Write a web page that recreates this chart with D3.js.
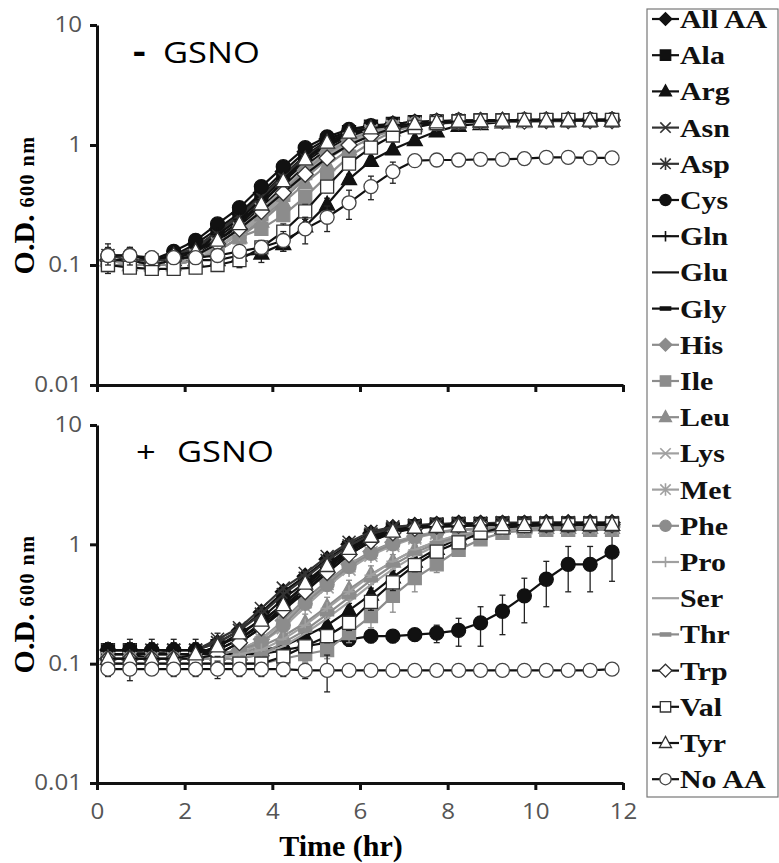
<!DOCTYPE html>
<html lang="en">
<head>
<meta charset="UTF-8">
<title>Growth curves with and without GSNO</title>
<script src="https://d3js.org/d3.v7.min.js"></script>
<style>
    body { margin: 0; background: #fff; }
    svg { display: block; }
    .tick text { font-family: "Open Sans", "Noto Sans", sans-serif; font-size: 21px; fill: #555; }
</style>
</head>
<body>
<svg id="chart" width="779" height="863"></svg>
<script>
// sampling times (hr)
const timeHr = [0.25,0.75,1.25,1.75,2.25,2.75,3.25,3.75,4.25,4.75,5.25,5.75,6.25,6.75,7.25,7.75,8.25,8.75,9.25,9.75,10.25,10.75,11.25,11.75];

const aminoAcids = ["All AA","Ala","Arg","Asn","Asp","Cys","Gln","Glu","Gly","His","Ile","Leu","Lys","Met","Phe","Pro","Ser","Thr","Trp","Val","Tyr","No AA"];

const yTicks = [0.01, 0.1, 1, 10];
const yTickLabels = ["0.01", "0.1", "1", "10"];
const xTicks = [0, 2, 4, 6, 8, 10, 12];

// - GSNO, O.D. 600 nm
const minusAllAA = [0.11,0.11,0.11,0.12,0.15,0.20,0.27,0.40,0.60,0.88,1.12,1.30,1.42,1.50,1.55,1.58,1.60,1.60,1.60,1.62,1.62,1.62,1.62,1.62];
const minusAla = [0.11,0.11,0.10,0.11,0.14,0.19,0.26,0.38,0.56,0.82,1.08,1.28,1.42,1.50,1.55,1.57,1.58,1.60,1.60,1.60,1.60,1.60,1.60,1.60];
const minusArg = [0.11,0.11,0.11,0.11,0.11,0.11,0.12,0.125,0.15,0.21,0.32,0.52,0.74,0.92,1.10,1.30,1.45,1.50,1.55,1.57,1.58,1.60,1.60,1.60];
const minusAsn = [0.12,0.11,0.11,0.12,0.14,0.19,0.26,0.37,0.55,0.80,1.05,1.27,1.40,1.48,1.54,1.57,1.60,1.60,1.60,1.60,1.62,1.60,1.60,1.62];
const minusAsp = [0.11,0.11,0.11,0.11,0.14,0.18,0.25,0.36,0.53,0.78,1.03,1.25,1.40,1.48,1.53,1.56,1.58,1.60,1.60,1.60,1.60,1.60,1.60,1.60];
const minusCys = [0.12,0.12,0.11,0.13,0.16,0.22,0.30,0.45,0.66,0.95,1.17,1.35,1.45,1.50,1.55,1.58,1.60,1.60,1.60,1.62,1.62,1.62,1.63,1.63];
const minusGln = [0.11,0.11,0.10,0.11,0.13,0.18,0.24,0.35,0.52,0.76,1.00,1.23,1.38,1.47,1.52,1.56,1.58,1.58,1.60,1.60,1.60,1.60,1.60,1.60];
const minusGlu = [0.11,0.11,0.10,0.11,0.13,0.17,0.23,0.33,0.49,0.72,0.97,1.20,1.36,1.46,1.52,1.55,1.57,1.58,1.58,1.60,1.60,1.60,1.60,1.60];
const minusGly = [0.10,0.10,0.10,0.10,0.12,0.16,0.21,0.30,0.45,0.67,0.92,1.16,1.34,1.45,1.51,1.55,1.57,1.58,1.58,1.60,1.60,1.60,1.60,1.60];
const minusHis = [0.11,0.11,0.10,0.11,0.12,0.15,0.20,0.28,0.42,0.62,0.86,1.10,1.30,1.43,1.50,1.54,1.57,1.58,1.58,1.60,1.60,1.60,1.60,1.60];
const minusIle = [0.10,0.10,0.10,0.10,0.11,0.13,0.17,0.20,0.26,0.37,0.55,0.80,1.05,1.30,1.45,1.52,1.55,1.57,1.58,1.58,1.60,1.60,1.60,1.60];
const minusLeu = [0.11,0.10,0.10,0.10,0.11,0.13,0.17,0.23,0.33,0.48,0.68,0.92,1.15,1.33,1.44,1.50,1.54,1.56,1.57,1.58,1.58,1.58,1.60,1.60];
const minusLys = [0.11,0.11,0.10,0.11,0.12,0.15,0.20,0.29,0.43,0.64,0.88,1.12,1.31,1.43,1.50,1.54,1.56,1.58,1.58,1.58,1.60,1.60,1.60,1.60];
const minusMet = [0.11,0.10,0.10,0.10,0.12,0.14,0.19,0.27,0.40,0.60,0.84,1.08,1.28,1.41,1.49,1.53,1.56,1.57,1.58,1.58,1.60,1.60,1.60,1.60];
const minusPhe = [0.11,0.11,0.10,0.11,0.12,0.15,0.20,0.28,0.41,0.61,0.85,1.09,1.29,1.42,1.50,1.54,1.56,1.58,1.58,1.60,1.60,1.60,1.60,1.60];
const minusPro = [0.10,0.10,0.10,0.10,0.11,0.14,0.18,0.26,0.38,0.57,0.81,1.05,1.26,1.40,1.48,1.53,1.56,1.57,1.58,1.58,1.60,1.60,1.60,1.60];
const minusSer = [0.10,0.10,0.10,0.10,0.11,0.14,0.18,0.25,0.37,0.55,0.78,1.03,1.24,1.39,1.47,1.52,1.55,1.57,1.58,1.58,1.58,1.60,1.60,1.60];
const minusThr = [0.10,0.10,0.10,0.10,0.11,0.13,0.17,0.24,0.35,0.53,0.76,1.00,1.22,1.38,1.46,1.52,1.55,1.56,1.57,1.58,1.58,1.58,1.60,1.60];
const minusTrp = [0.11,0.11,0.10,0.11,0.12,0.15,0.20,0.28,0.40,0.57,0.78,1.00,1.20,1.38,1.47,1.52,1.55,1.57,1.58,1.58,1.60,1.60,1.60,1.60];
const minusVal = [0.10,0.095,0.093,0.093,0.095,0.10,0.11,0.14,0.19,0.28,0.45,0.70,0.95,1.20,1.40,1.52,1.57,1.60,1.60,1.62,1.62,1.62,1.62,1.62];
const minusTyr = [0.12,0.12,0.11,0.12,0.13,0.16,0.22,0.32,0.50,0.76,1.05,1.27,1.38,1.45,1.50,1.55,1.57,1.58,1.60,1.60,1.60,1.60,1.60,1.60];
const minusNoAA = [0.12,0.12,0.115,0.115,0.115,0.12,0.13,0.14,0.16,0.20,0.25,0.33,0.45,0.60,0.74,0.75,0.75,0.76,0.76,0.77,0.79,0.79,0.78,0.78];

// - GSNO, error (s.d.)
const minusCysErr = [0.03,0.02,0.015,0.015,0.02,0.02,0.03,0.04,0.05,0.05,0.05,0.04,0.03,0.03,0.03,0.03,0.03,0.03,0.03,0.03,0.03,0.03,0.03,0.03];
const minusArgErr = [0.01,0.01,0.01,0.01,0.01,0.01,0.015,0.02,0.02,0.03,0.04,0.05,0.06,0.06,0.05,0.04,0.03,0.03,0.03,0.03,0.03,0.03,0.03,0.03];
const minusIleErr = [0.01,0.01,0.01,0.01,0.01,0.015,0.02,0.02,0.03,0.04,0.05,0.06,0.06,0.05,0.04,0.03,0.03,0.03,0.03,0.03,0.03,0.03,0.03,0.03];
const minusValErr = [0.015,0.01,0.01,0.01,0.01,0.01,0.015,0.02,0.03,0.04,0.05,0.06,0.06,0.05,0.04,0.03,0.03,0.03,0.03,0.03,0.03,0.03,0.03,0.03];
const minusNoAAErr = [0.02,0.02,0.015,0.01,0.01,0.01,0.015,0.02,0.03,0.05,0.06,0.09,0.10,0.12,0.03,0.02,0.02,0.02,0.02,0.02,0.02,0.02,0.02,0.02];

// + GSNO, O.D. 600 nm
const plusAllAA = [0.13,0.13,0.13,0.13,0.13,0.15,0.19,0.27,0.40,0.54,0.75,1.00,1.24,1.38,1.44,1.47,1.50,1.50,1.50,1.50,1.52,1.52,1.52,1.52];
const plusAla = [0.13,0.13,0.12,0.12,0.12,0.14,0.17,0.24,0.35,0.48,0.68,0.93,1.18,1.33,1.42,1.46,1.48,1.48,1.50,1.50,1.50,1.50,1.50,1.50];
const plusArg = [0.12,0.12,0.12,0.12,0.12,0.12,0.12,0.13,0.14,0.17,0.21,0.28,0.38,0.53,0.72,0.92,1.12,1.28,1.38,1.42,1.45,1.45,1.46,1.46];
const plusAsn = [0.13,0.13,0.13,0.13,0.13,0.16,0.20,0.29,0.43,0.57,0.79,1.04,1.28,1.40,1.45,1.48,1.50,1.50,1.52,1.52,1.52,1.52,1.52,1.52];
const plusAsp = [0.13,0.13,0.12,0.13,0.13,0.15,0.19,0.26,0.38,0.52,0.73,0.97,1.22,1.36,1.43,1.47,1.48,1.50,1.50,1.50,1.50,1.50,1.50,1.50];
const plusCys = [0.13,0.13,0.13,0.13,0.13,0.13,0.12,0.12,0.13,0.14,0.15,0.16,0.17,0.17,0.175,0.18,0.19,0.22,0.275,0.37,0.51,0.68,0.68,0.86];
const plusGln = [0.12,0.12,0.12,0.12,0.12,0.13,0.16,0.22,0.32,0.45,0.64,0.89,1.14,1.31,1.41,1.45,1.47,1.48,1.48,1.50,1.50,1.50,1.50,1.50];
const plusGlu = [0.12,0.12,0.12,0.12,0.12,0.13,0.16,0.21,0.30,0.43,0.61,0.86,1.10,1.29,1.40,1.44,1.46,1.48,1.48,1.48,1.48,1.50,1.50,1.50];
const plusGly = [0.12,0.12,0.11,0.11,0.11,0.12,0.15,0.20,0.29,0.41,0.58,0.82,1.06,1.26,1.38,1.43,1.46,1.47,1.48,1.48,1.48,1.48,1.48,1.48];
const plusHis = [0.11,0.11,0.11,0.11,0.11,0.12,0.13,0.16,0.23,0.35,0.49,0.68,0.87,1.04,1.17,1.27,1.33,1.36,1.38,1.40,1.40,1.40,1.40,1.40];
const plusIle = [0.10,0.10,0.10,0.10,0.10,0.10,0.10,0.10,0.11,0.12,0.13,0.18,0.25,0.37,0.52,0.68,0.90,1.10,1.25,1.30,1.32,1.32,1.32,1.32];
const plusLeu = [0.11,0.11,0.11,0.11,0.11,0.11,0.12,0.14,0.17,0.22,0.30,0.42,0.56,0.72,0.90,1.05,1.20,1.30,1.35,1.37,1.38,1.38,1.38,1.38];
const plusLys = [0.11,0.11,0.11,0.11,0.11,0.12,0.13,0.16,0.22,0.33,0.47,0.66,0.85,1.02,1.16,1.26,1.32,1.36,1.38,1.38,1.40,1.40,1.40,1.40];
const plusMet = [0.11,0.11,0.11,0.11,0.11,0.11,0.12,0.15,0.20,0.30,0.44,0.62,0.81,0.98,1.13,1.24,1.31,1.35,1.37,1.38,1.38,1.38,1.38,1.38];
const plusPhe = [0.11,0.11,0.11,0.11,0.11,0.12,0.13,0.15,0.21,0.32,0.46,0.65,0.84,1.01,1.15,1.26,1.32,1.35,1.37,1.38,1.40,1.40,1.40,1.40];
const plusPro = [0.11,0.11,0.11,0.11,0.11,0.11,0.12,0.13,0.16,0.21,0.29,0.40,0.55,0.72,0.90,1.06,1.20,1.29,1.34,1.36,1.38,1.38,1.38,1.38];
const plusSer = [0.11,0.11,0.11,0.11,0.11,0.11,0.11,0.12,0.14,0.18,0.24,0.33,0.46,0.62,0.80,0.98,1.13,1.24,1.31,1.35,1.36,1.37,1.38,1.38];
const plusThr = [0.11,0.11,0.11,0.11,0.11,0.11,0.11,0.12,0.15,0.19,0.26,0.36,0.50,0.67,0.85,1.02,1.16,1.26,1.32,1.35,1.36,1.37,1.38,1.38];
const plusTrp = [0.11,0.11,0.11,0.11,0.11,0.12,0.15,0.20,0.28,0.40,0.58,0.82,1.06,1.25,1.36,1.42,1.44,1.45,1.46,1.46,1.46,1.46,1.46,1.46];
const plusVal = [0.10,0.10,0.10,0.10,0.10,0.10,0.10,0.10,0.115,0.14,0.17,0.22,0.33,0.48,0.67,0.87,1.04,1.25,1.38,1.42,1.45,1.45,1.46,1.46];
const plusTyr = [0.11,0.11,0.11,0.11,0.12,0.14,0.18,0.23,0.31,0.47,0.66,0.92,1.16,1.28,1.38,1.40,1.42,1.44,1.45,1.45,1.46,1.46,1.46,1.46];
const plusNoAA = [0.09,0.09,0.09,0.09,0.09,0.09,0.09,0.09,0.09,0.088,0.088,0.088,0.088,0.088,0.088,0.088,0.088,0.088,0.088,0.088,0.088,0.088,0.088,0.09];

// + GSNO, error (s.d.)
const plusAllAAErr = [0.02,0.03,0.03,0.03,0.03,0.03,0.02,0.02,0.02,0.03,0.03,0.03,0.03,0.03,0.03,0.03,0.03,0.03,0.03,0.03,0.03,0.03,0.03,0.03];
const plusArgErr = [0.01,0.01,0.01,0.01,0.01,0.01,0.01,0.01,0.015,0.02,0.03,0.04,0.05,0.07,0.08,0.07,0.06,0.05,0.04,0.03,0.03,0.03,0.03,0.03];
const plusCysErr = [0.01,0.02,0.02,0.02,0.02,0.02,0.01,0.01,0.02,0.02,0.02,0.02,0.02,0.02,0.02,0.03,0.05,0.08,0.10,0.15,0.21,0.28,0.28,0.37];
const plusIleErr = [0.01,0.01,0.01,0.01,0.01,0.01,0.01,0.01,0.01,0.015,0.02,0.03,0.05,0.10,0.12,0.10,0.08,0.06,0.05,0.04,0.03,0.03,0.03,0.03];
const plusLeuErr = [0.01,0.01,0.01,0.01,0.01,0.01,0.01,0.02,0.03,0.04,0.06,0.08,0.10,0.10,0.08,0.06,0.05,0.04,0.03,0.03,0.03,0.03,0.03,0.03];
const plusValErr = [0.01,0.028,0.01,0.01,0.012,0.015,0.01,0.01,0.01,0.015,0.02,0.03,0.05,0.07,0.08,0.08,0.07,0.05,0.04,0.03,0.03,0.03,0.03,0.03];
const plusNoAAErr = [0.012,0.01,0.01,0.012,0.012,0.015,0.012,0.012,0.012,0.013,0.03,0.01,0.008,0.008,0.008,0.008,0.008,0.008,0.008,0.008,0.008,0.008,0.008,0.008];

const minusRows = [minusAllAA,minusAla,minusArg,minusAsn,minusAsp,minusCys,minusGln,minusGlu,minusGly,minusHis,minusIle,minusLeu,minusLys,minusMet,minusPhe,minusPro,minusSer,minusThr,minusTrp,minusVal,minusTyr,minusNoAA];
const plusRows = [plusAllAA,plusAla,plusArg,plusAsn,plusAsp,plusCys,plusGln,plusGlu,plusGly,plusHis,plusIle,plusLeu,plusLys,plusMet,plusPhe,plusPro,plusSer,plusThr,plusTrp,plusVal,plusTyr,plusNoAA];
const minusErrs = { "Cys": minusCysErr, "Arg": minusArgErr, "Ile": minusIleErr, "Val": minusValErr, "No AA": minusNoAAErr };
const plusErrs = { "All AA": plusAllAAErr, "Arg": plusArgErr, "Cys": plusCysErr, "Ile": plusIleErr, "Leu": plusLeuErr, "Val": plusValErr, "No AA": plusNoAAErr };

// look of each series
const BLACK = "#111", GRAY = "#8c8c8c", LIGHT = "#a0a0a0";
const styles = {
    "All AA": { color: BLACK, marker: "diamond", fill: BLACK },
    "Ala":    { color: BLACK, marker: "square", fill: BLACK },
    "Arg":    { color: BLACK, marker: "triangle", fill: BLACK },
    "Asn":    { color: "#333", marker: "times" },
    "Asp":    { color: "#333", marker: "asterisk" },
    "Cys":    { color: BLACK, marker: "circle", fill: BLACK },
    "Gln":    { color: BLACK, marker: "plus" },
    "Glu":    { color: BLACK, marker: "none" },
    "Gly":    { color: BLACK, marker: "dash" },
    "His":    { color: GRAY, marker: "diamond", fill: GRAY },
    "Ile":    { color: GRAY, marker: "square", fill: GRAY },
    "Leu":    { color: GRAY, marker: "triangle", fill: GRAY },
    "Lys":    { color: LIGHT, marker: "times" },
    "Met":    { color: LIGHT, marker: "asterisk" },
    "Phe":    { color: GRAY, marker: "circle", fill: GRAY },
    "Pro":    { color: LIGHT, marker: "plus" },
    "Ser":    { color: LIGHT, marker: "none" },
    "Thr":    { color: GRAY, marker: "dash" },
    "Trp":    { color: BLACK, marker: "diamond", fill: "#fff", stroke: "#333" },
    "Val":    { color: BLACK, marker: "square", fill: "#fff", stroke: "#333" },
    "Tyr":    { color: BLACK, marker: "triangle", fill: "#fff", stroke: "#333" },
    "No AA":  { color: BLACK, marker: "circle", fill: "#fff", stroke: "#444" }
};

function markerPath(type, k) {
    k = k || 1;
    const r = 7 * k, s = 6.5 * k, d = 8 * k, t = 7.5 * k;
    switch (type) {
        case "circle": return `M${-r},0A${r},${r} 0 1,0 ${r},0A${r},${r} 0 1,0 ${-r},0Z`;
        case "square": return `M${-s},${-s}H${s}V${s}H${-s}Z`;
        case "triangle": return `M0,${-t * 1.1}L${t},${t * 0.75}L${-t},${t * 0.75}Z`;
        case "diamond": return `M0,${-d}L${d},0L0,${d}L${-d},0Z`;
        case "plus": return `M${-s},0H${s}M0,${-s}V${s}`;
        case "times": return `M${-s},${-s}L${s},${s}M${-s},${s}L${s},${-s}`;
        case "asterisk": return `M${-s},${-s}L${s},${s}M${-s},${s}L${s},${-s}M0,${-s * 1.2}V${s * 1.2}`;
        case "dash": return `M${-s},-1.6H${s}V1.6H${-s}Z`;
        default: return "";
    }
}

function drawMarker(sel, st, k) {
    if (st.marker === "none") return;
    const filled = ["circle", "square", "triangle", "diamond", "dash"].includes(st.marker);
    sel.append("path")
        .attr("d", markerPath(st.marker, k))
        .attr("fill", filled ? (st.fill || st.color) : "none")
        .attr("stroke", st.stroke || st.color)
        .attr("stroke-width", filled ? 1.3 : 1.6);
}

const svg = d3.select("#chart");
const x = d3.scaleLinear().domain([0, 12]).range([97, 623]);
const STRETCH = "scale(1.15,1)";

function drawPanel(top, bottom, rows, errs, showXLabels, sign, signX, gsnoX, baseY) {
    const y = d3.scaleLog().domain([0.01, 10]).range([bottom, top]);
    const g = svg.append("g");

    // series: line, error bars, markers, drawn in legend order
    aminoAcids.forEach((name, i) => {
        const st = styles[name];
        const pts = timeHr.map((t, j) => ({ t, v: rows[i][j], e: errs[name] ? errs[name][j] : 0 }));
        const sg = g.append("g");
        sg.append("path")
            .datum(pts)
            .attr("fill", "none")
            .attr("stroke", st.color)
            .attr("stroke-width", 2.2)
            .attr("d", d3.line().x(d => x(d.t)).y(d => y(d.v)));

        const eb = sg.selectAll(".err").data(pts.filter(d => d.e > 0)).join("g")
            .attr("stroke", st.color === BLACK ? "#222" : st.color)
            .attr("stroke-width", 1.3);
        eb.append("line")
            .attr("x1", d => x(d.t)).attr("x2", d => x(d.t))
            .attr("y1", d => y(Math.max(d.v - d.e, 0.011))).attr("y2", d => y(d.v + d.e));
        eb.append("line")
            .attr("x1", d => x(d.t) - 3).attr("x2", d => x(d.t) + 3)
            .attr("y1", d => y(Math.max(d.v - d.e, 0.011))).attr("y2", d => y(Math.max(d.v - d.e, 0.011)));
        eb.append("line")
            .attr("x1", d => x(d.t) - 3).attr("x2", d => x(d.t) + 3)
            .attr("y1", d => y(d.v + d.e)).attr("y2", d => y(d.v + d.e));

        sg.selectAll(".mk").data(pts).join("g")
            .attr("transform", d => `translate(${x(d.t)},${y(d.v)})`)
            .each(function() { drawMarker(d3.select(this), st, 1); });
    });

    // axes
    const yAxis = d3.axisLeft(y).tickValues(yTicks)
        .tickFormat((d, i) => yTickLabels[i]).tickSize(7).tickPadding(6).tickSizeOuter(0);
    const ya = g.append("g").attr("transform", "translate(97,0)").call(yAxis);
    ya.selectAll(".tick text").attr("transform", STRETCH);

    const xAxis = d3.axisBottom(x).tickValues(xTicks).tickSize(7).tickPadding(14).tickSizeOuter(0)
        .tickFormat(showXLabels ? d3.format("d") : () => "");
    const xa = g.append("g").attr("transform", `translate(0,${bottom})`).call(xAxis);
    xa.selectAll(".tick text").attr("transform", STRETCH);

    [ya, xa].forEach(a => {
        a.select(".domain").attr("stroke", "#111").attr("stroke-width", 3);
        a.selectAll(".tick line").attr("stroke", "#111").attr("stroke-width", 3);
    });

    // panel title
    g.append("text")
        .attr("transform", `translate(${signX},${baseY}) ${STRETCH}`)
        .style("font-family", "'Open Sans', sans-serif").style("font-size", sign === "-" ? "34px" : "30px")
        .style("font-weight", sign === "-" ? "bold" : "normal")
        .text(sign);
    g.append("text")
        .attr("transform", `translate(${gsnoX},${baseY}) ${STRETCH}`)
        .style("font-family", "'Open Sans', sans-serif").style("font-size", "30px")
        .text("GSNO");

    // y-axis title
    const yl = g.append("text")
        .attr("transform", `translate(34,${(top + bottom) / 2}) rotate(-90)`)
        .attr("text-anchor", "middle")
        .style("font-family", "'Liberation Serif', 'Times New Roman', serif")
        .style("font-weight", "bold");
    yl.append("tspan").style("font-size", "30px").text("O.D.");
    yl.append("tspan").attr("dx", 7).style("font-size", "20px").style("letter-spacing", "1.5px").text("600 nm");
}

drawPanel(25, 385, minusRows, minusErrs, false, "-", 133, 163, 63);
drawPanel(425, 783, plusRows, plusErrs, true, "+", 136, 177, 462);

svg.append("text")
    .attr("x", 341).attr("y", 856)
    .attr("text-anchor", "middle")
    .style("font-family", "'Liberation Serif', 'Times New Roman', serif")
    .style("font-weight", "bold").style("font-size", "30px")
    .text("Time (hr)");

// legend
const legend = svg.append("g");
legend.append("rect")
    .attr("x", 647).attr("y", 9).attr("width", 131).attr("height", 788)
    .attr("fill", "#fff").attr("stroke", "#777").attr("stroke-width", 1.2);

aminoAcids.forEach((name, i) => {
    const st = styles[name];
    const cy = 19 + 36.2 * i;
    const row = legend.append("g");
    row.append("line")
        .attr("x1", 652).attr("x2", 679).attr("y1", cy).attr("y2", cy)
        .attr("stroke", st.color).attr("stroke-width", 2.2);
    drawMarker(row.append("g").attr("transform", `translate(665.5,${cy})`), st, 0.8);
    row.append("text")
        .attr("transform", `translate(680,${cy + 9}) ${STRETCH}`)
        .style("font-family", "'Liberation Serif', 'Times New Roman', serif")
        .style("font-weight", "bold").style("font-size", "26px")
        .attr("fill", "#111")
        .text(name);
});
</script>
</body>
</html>
